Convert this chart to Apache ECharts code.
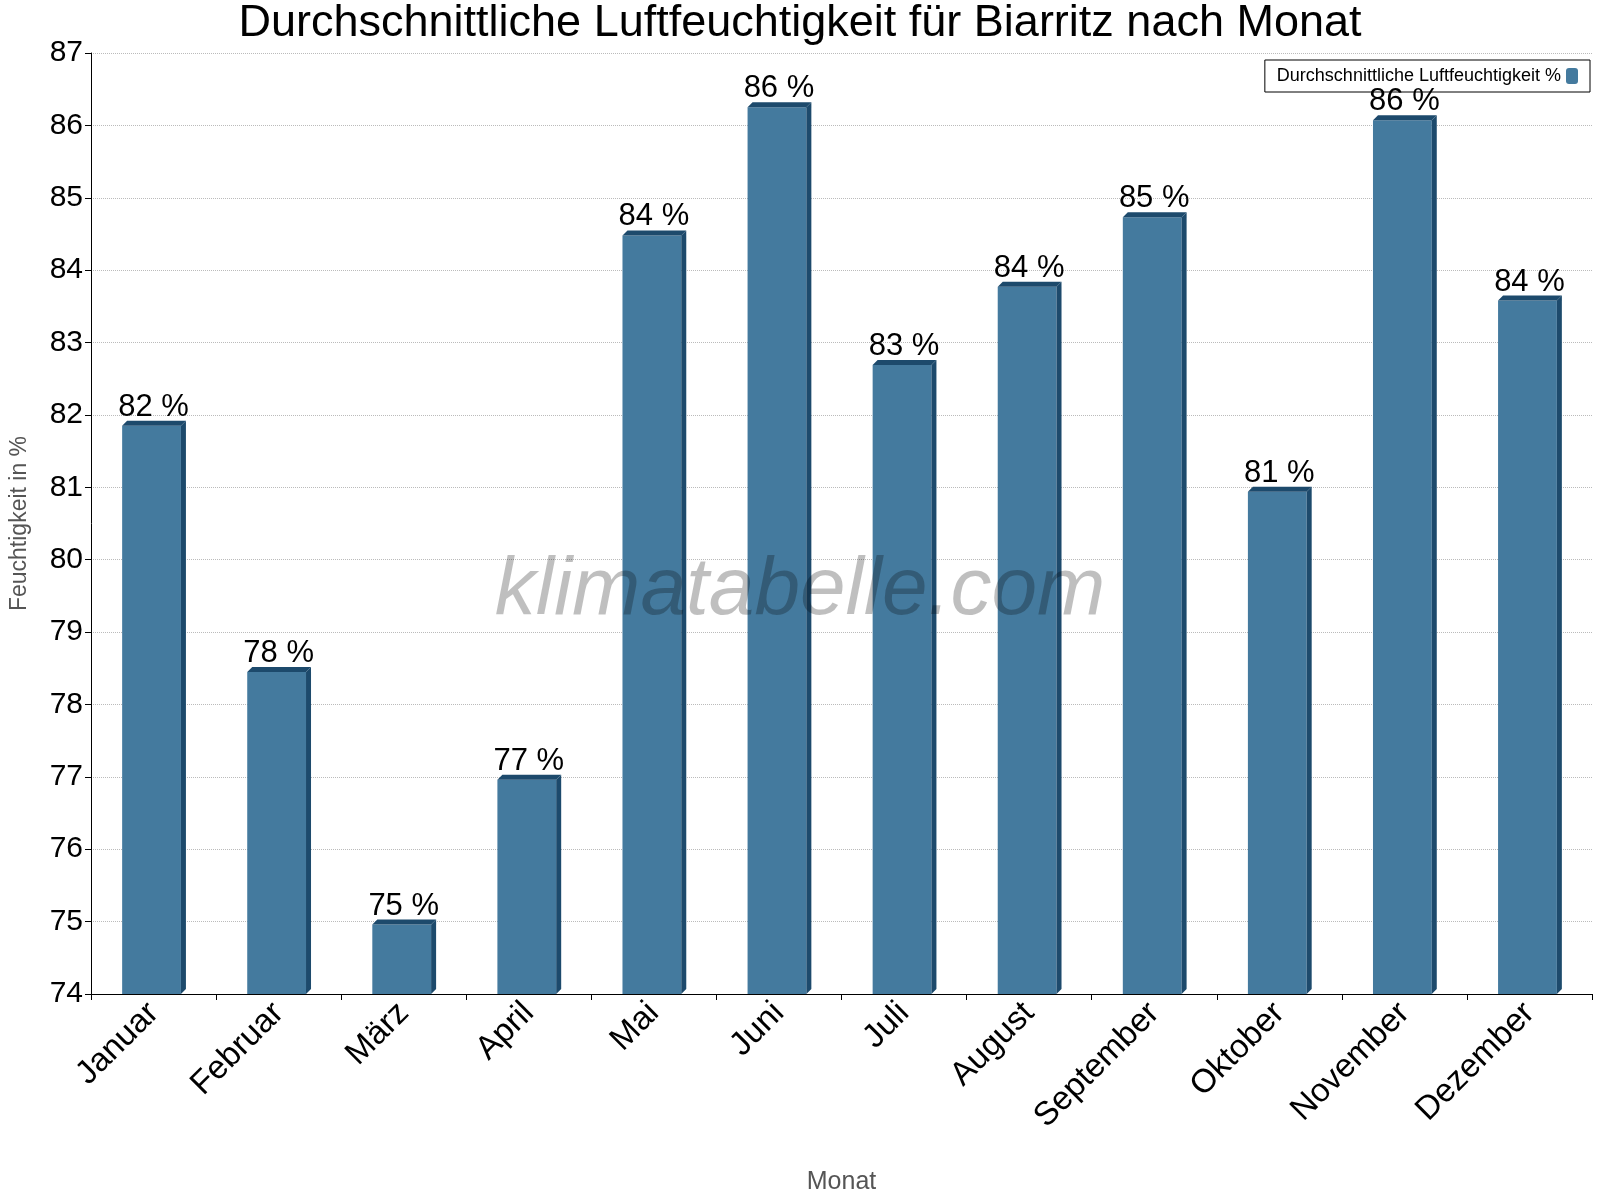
<!DOCTYPE html>
<html><head><meta charset="utf-8">
<script src="https://cdn.jsdelivr.net/npm/echarts@6/dist/echarts.min.js"></script>
<style>html,body{margin:0;background:#fff}#c{width:1600px;height:1200px}</style></head>
<body><div id="c"></div>
<script>
const categories=['Januar','Februar','März','April','Mai','Juni','Juli','August','September','Oktober','November','Dezember'];
const humidity=[81.85,78.45,74.96,76.96,84.48,86.25,82.69,83.77,84.73,80.94,86.07,83.58];
const chart=echarts.init(document.getElementById('c'));
const F='Liberation Sans, Arial, sans-serif';
chart.setOption({
  animation:false,
  title:{text:'Durchschnittliche Luftfeuchtigkeit für Biarritz nach Monat',left:'center',top:-4,textStyle:{fontFamily:F,fontSize:45,fontWeight:'normal',color:'#000'}},
  grid:{left:84,right:8,top:53,bottom:200},
  legend:{top:60,right:10,data:['Durchschnittliche Luftfeuchtigkeit %'],itemWidth:12,itemHeight:16,borderColor:'#000',borderWidth:1,borderRadius:0,padding:[7,12],align:'right',textStyle:{fontFamily:F,fontSize:18,color:'#000'}},
  graphic:[{type:'text',left:'center',top:550,z:100,style:{text:'klimatabelle.com',font:'italic 82px '+F,fill:'rgba(0,0,0,0.25)'}}],
  xAxis:{type:'category',data:categories,name:'Monat',nameLocation:'middle',nameGap:176,nameTextStyle:{fontFamily:F,fontSize:25,color:'#555'},
    axisLine:{lineStyle:{color:'#000'}},axisTick:{show:true,length:6,lineStyle:{color:'#000'}},
    axisLabel:{rotate:45,fontFamily:F,fontSize:33,color:'#000',margin:14}},
  yAxis:{type:'value',min:74,max:87,interval:1,name:'Feuchtigkeit in %',nameLocation:'middle',nameGap:60,nameTextStyle:{fontFamily:F,fontSize:23,color:'#555'},
    axisLine:{show:true,lineStyle:{color:'#000'}},axisTick:{show:true,length:6,lineStyle:{color:'#000'}},
    axisLabel:{fontFamily:F,fontSize:30,color:'#000'},splitLine:{lineStyle:{color:'#bbb',type:'dotted'}}},
  series:[{name:'Durchschnittliche Luftfeuchtigkeit %',type:'custom',itemStyle:{color:'#447a9e'},data:humidity.map((v,i)=>[i,v]),
    renderItem:function(params,api){
      const top=api.coord([api.value(0),api.value(1)]);
      const base=api.coord([api.value(0),74]);
      const w=api.size([1,0])[0]*0.47;
      const x0=top[0]-w/2-2, x1=x0+w, d=5;
      return {type:'group',children:[
        {type:'rect',shape:{x:x0,y:top[1],width:w,height:base[1]-top[1]},style:{fill:'#447a9e'}},
        {type:'polygon',shape:{points:[[x1,top[1]],[x1+d,top[1]-d],[x1+d,base[1]-d],[x1,base[1]]]},style:{fill:'#1d4a6c'}},
        {type:'polygon',shape:{points:[[x0,top[1]],[x0+d,top[1]-d],[x1+d,top[1]-d],[x1,top[1]]]},style:{fill:'#1d4a6c'}},
        {type:'text',style:{text:Math.round(api.value(1))+' %',x:top[0],y:top[1]-3,align:'center',verticalAlign:'bottom',font:'31px '+F,fill:'#000'}}
      ]};
    }}]
});
</script></body></html>
